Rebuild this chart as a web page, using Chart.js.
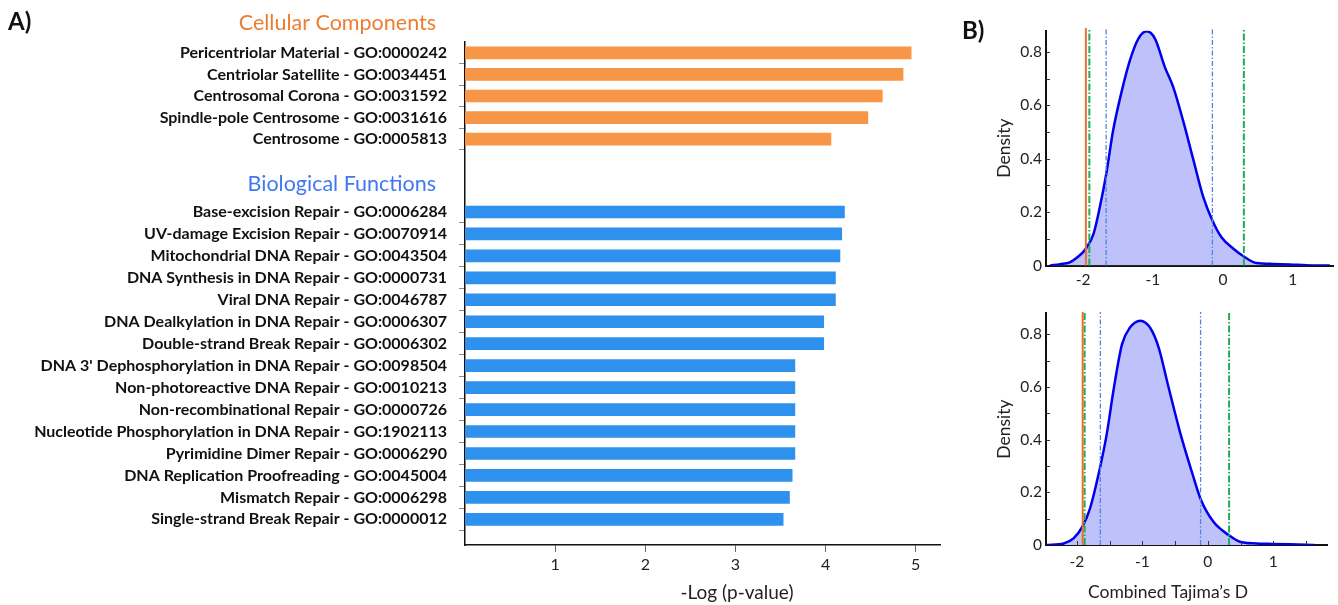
<!DOCTYPE html>
<html>
<head>
<meta charset="utf-8">
<script src="https://cdn.jsdelivr.net/npm/chart.js@4/dist/chart.umd.min.js"></script>
<style>
  html, body { margin: 0; padding: 0; background: #fff; }
  #wrap { position: relative; width: 1338px; height: 605px; overflow: hidden; background: #fff; }
  #wrap canvas { position: absolute; }
</style>
</head>
<body>
<div id="wrap">
  <canvas id="bfChart" width="960" height="455" style="left:0;top:150px"></canvas>
  <canvas id="ccChart" width="960" height="221" style="left:0;top:0"></canvas>
  <canvas id="kdeTop" width="378" height="300" style="left:960px;top:0"></canvas>
  <canvas id="kdeBottom" width="378" height="305" style="left:960px;top:300px"></canvas>
</div>
<script>
// ---- Panel A: GO enrichment, -log10(p) ----
const ccLabels = [
  'Pericentriolar Material - GO:0000242',
  'Centriolar Satellite - GO:0034451',
  'Centrosomal Corona - GO:0031592',
  'Spindle-pole Centrosome - GO:0031616',
  'Centrosome - GO:0005813'
];
const ccValues = [4.95, 4.86, 4.63, 4.47, 4.06];

const bfLabels = [
  'Base-excision Repair - GO:0006284',
  'UV-damage Excision Repair - GO:0070914',
  'Mitochondrial DNA Repair - GO:0043504',
  'DNA Synthesis in DNA Repair - GO:0000731',
  'Viral DNA Repair - GO:0046787',
  'DNA Dealkylation in DNA Repair - GO:0006307',
  'Double-strand Break Repair - GO:0006302',
  "DNA 3' Dephosphorylation in DNA Repair - GO:0098504",
  'Non-photoreactive DNA Repair - GO:0010213',
  'Non-recombinational Repair - GO:0000726',
  'Nucleotide Phosphorylation in DNA Repair - GO:1902113',
  'Pyrimidine Dimer Repair - GO:0006290',
  'DNA Replication Proofreading - GO:0045004',
  'Mismatch Repair - GO:0006298',
  'Single-strand Break Repair - GO:0000012'
];
const bfValues = [4.21, 4.18, 4.16, 4.11, 4.11, 3.98, 3.98, 3.66, 3.66, 3.66, 3.66, 3.66, 3.63, 3.60, 3.53];

const pTicks = [1, 2, 3, 4, 5];

// ---- Panel B: Combined Tajima's D density (top and bottom) ----
const topD = [-2.47, -2.33, -2.19, -2.09, -1.96, -1.85, -1.76, -1.67, -1.57, -1.45, -1.33, -1.21, -1.09, -0.97, -0.83, -0.71, -0.57, -0.42, -0.28, -0.15, -0.02, 0.15, 0.30, 0.48, 0.72, 0.96, 1.19, 1.53];
const topDensity = [0, 0.005, 0.012, 0.029, 0.063, 0.119, 0.219, 0.34, 0.506, 0.65, 0.769, 0.85, 0.878, 0.85, 0.744, 0.669, 0.544, 0.394, 0.256, 0.169, 0.106, 0.063, 0.034, 0.009, 0.006, 0.004, 0.001, 0];
const topOrangeCut = [-1.96];
const topGreenCuts = [-1.91, 0.30];
const topBlueCuts = [-1.67, -0.15];

const botD = [-2.46, -2.2, -2.05, -1.91, -1.80, -1.64, -1.54, -1.44, -1.31, -1.19, -1.03, -0.88, -0.75, -0.60, -0.42, -0.24, -0.11, 0.09, 0.32, 0.49, 0.74, 0.99, 1.5, 1.63];
const botDensity = [0, 0.006, 0.025, 0.072, 0.137, 0.30, 0.425, 0.587, 0.762, 0.825, 0.852, 0.825, 0.75, 0.60, 0.425, 0.275, 0.175, 0.087, 0.0375, 0.0125, 0.006, 0.004, 0.001, 0];
const botOrangeCut = [-1.91];
const botGreenCuts = [-1.88, 0.325];
const botBlueCuts = [-1.64, -0.11];

const densityTicks = [0, 0.2, 0.4, 0.6, 0.8];
const dTicks = [-2, -1, 0, 1];

// ---- shared look ----
Chart.defaults.font.family = 'Lato';
Chart.defaults.color = '#222';
Chart.defaults.animation = false;
Chart.defaults.plugins.legend.display = false;
Chart.defaults.plugins.tooltip.enabled = false;

const ORANGE_BAR = '#F79646';
const BLUE_BAR = '#2F91EE';
const AXIS_COLOR = '#111';
const P_MAX = 5.27;

// free-standing text (panel letters, section headers, axis titles)
const freeText = {
  id: 'freeText',
  afterDraw(chart, args, opts) {
    const ctx = chart.ctx;
    (opts.items || []).forEach(it => {
      ctx.save();
      ctx.font = (it.weight || 'normal') + ' ' + it.size + 'px Lato';
      ctx.fillStyle = it.color || '#222';
      ctx.textAlign = it.align || 'left';
      ctx.textBaseline = 'middle';
      ctx.fillText(it.text, it.x, it.y);
      ctx.restore();
    });
  }
};

// short tick marks pointing into the plot area
const innerTicks = {
  id: 'innerTicks',
  afterDraw(chart, args, opts) {
    const { ctx, scales: { x, y }, chartArea: a } = chart;
    ctx.save();
    ctx.strokeStyle = '#333';
    ctx.lineWidth = 1;
    ctx.beginPath();
    if (opts.yStep) {
      for (let v = opts.yStep; v <= y.max + 1e-9; v += opts.yStep) {
        const p = Math.round(y.getPixelForValue(v)) + 0.5;
        ctx.moveTo(a.left, p); ctx.lineTo(a.left + opts.len, p);
      }
    }
    if (opts.xStep) {
      for (let v = Math.ceil(x.min / opts.xStep) * opts.xStep; v <= x.max + 1e-9; v += opts.xStep) {
        const p = Math.round(x.getPixelForValue(v)) + 0.5;
        ctx.moveTo(p, a.bottom); ctx.lineTo(p, a.bottom - opts.len);
      }
    }
    ctx.stroke();
    ctx.restore();
  }
};

// category-like axis on a linear index scale so the slot height can be set freely
function termAxis(labels, maxIndex) {
  return {
    type: 'linear',
    offset: false,
    reverse: true,
    min: -0.5,
    max: maxIndex,
    afterBuildTicks: s => { s.ticks = labels.map((_, i) => ({ value: i })); },
    afterFit: s => { s.width = 465; },
    ticks: {
      autoSkip: false,
      padding: 12,
      color: '#111',
      font: { family: 'Lato', weight: 'bold', size: 16 },
      callback: (v, i) => labels[i]
    },
    grid: {
      offset: true,
      drawOnChartArea: false,
      drawTicks: true,
      tickLength: 6,
      lineWidth: 1,
      color: ctx => ctx.index === 0 ? 'rgba(0,0,0,0)' : '#8a8a8a'
    },
    border: { display: true, color: AXIS_COLOR, width: 1.5 }
  };
}

function barData(labels, values, color) {
  return {
    datasets: [{
      data: values.map((v, i) => ({ x: v, y: i })),
      backgroundColor: color,
      borderWidth: 0,
      barThickness: 12
    }]
  };
}

// Cellular components (upper bar block)
new Chart(document.getElementById('ccChart'), {
  type: 'bar',
  data: barData(ccLabels, ccValues, ORANGE_BAR),
  plugins: [freeText],
  options: {
    responsive: false,
    devicePixelRatio: 1,
    indexAxis: 'y',
    layout: { padding: { top: 42, right: 20, bottom: 20, left: 0 } },
    scales: {
      x: { type: 'linear', min: 0, max: P_MAX, display: false },
      y: termAxis(ccLabels, 6.79)
    },
    plugins: {
      freeText: {
        items: [
          { text: 'A)', x: 8, y: 22, size: 24, weight: 'bold', color: '#111' },
          { text: 'Cellular Components', x: 436, y: 23, size: 21.5, color: '#ED7D31', align: 'right' }
        ]
      }
    }
  }
});

// Biological functions (lower bar block with the shared p-value axis)
new Chart(document.getElementById('bfChart'), {
  type: 'bar',
  data: barData(bfLabels, bfValues, BLUE_BAR),
  plugins: [freeText],
  options: {
    responsive: false,
    devicePixelRatio: 1,
    indexAxis: 'y',
    layout: { padding: { top: 51, right: 20, bottom: 0, left: 0 } },
    scales: {
      x: {
        type: 'linear',
        min: 0,
        max: P_MAX,
        afterFit: s => { s.height = 60; },
        afterBuildTicks: s => { s.ticks = [0].concat(pTicks).map(v => ({ value: v })); },
        ticks: {
          padding: 3,
          color: '#222',
          font: { size: 16 },
          callback: v => v === 0 ? '' : String(v)
        },
        grid: {
          drawOnChartArea: false,
          tickLength: 7,
          color: ctx => (ctx.tick && ctx.tick.value === 0) ? 'rgba(0,0,0,0)' : '#666'
        },
        border: { display: true, color: AXIS_COLOR, width: 1.5 }
      },
      y: termAxis(bfLabels, 15.17)
    },
    plugins: {
      freeText: {
        items: [
          { text: 'Biological Functions', x: 436, y: 34, size: 21.5, color: '#3F78F2', align: 'right' },
          { text: '-Log (p-value)', x: 737, y: 443, size: 19, color: '#222', align: 'center' }
        ]
      }
    }
  }
});

// density chart builder
function densityChart(id, cfg) {
  const cutLine = (v, color, dash, width) => ({
    type: 'line',
    data: [{ x: v, y: 0 }, { x: v, y: cfg.lineTop }],
    borderColor: color,
    borderWidth: width,
    borderDash: dash,
    pointRadius: 0,
    fill: false,
    clip: false
  });
  const datasets = [];
  cfg.orange.forEach(v => datasets.push(cutLine(v, '#E8702A', [], 2)));
  cfg.green.forEach(v => datasets.push(cutLine(v, '#1FAE55', [7, 2, 1.5, 2], 2)));
  cfg.blue.forEach(v => datasets.push(cutLine(v, '#4F86D9', [5, 2, 1.5, 2], 1.3)));
  datasets.push({
    type: 'line',
    data: cfg.xs.map((x, i) => ({ x, y: cfg.ys[i] })),
    borderColor: '#0000EE',
    borderWidth: 2.5,
    backgroundColor: '#BFC2FA',
    fill: 'origin',
    pointRadius: 0,
    cubicInterpolationMode: 'monotone'
  });

  return new Chart(document.getElementById(id), {
    type: 'line',
    data: { datasets },
    plugins: [innerTicks, freeText],
    options: {
      responsive: false,
      devicePixelRatio: 1,
      layout: { padding: cfg.padding },
      scales: {
        x: {
          type: 'linear',
          min: cfg.xMin,
          max: cfg.xMax,
          afterFit: s => { s.height = cfg.xHeight; },
          afterBuildTicks: s => { s.ticks = dTicks.map(v => ({ value: v })); },
          ticks: { padding: cfg.xPad, color: '#222', font: { size: 15.5 }, callback: v => String(v) },
          grid: { drawOnChartArea: false, drawTicks: false },
          border: { display: true, color: AXIS_COLOR, width: 2 }
        },
        y: {
          type: 'linear',
          min: 0,
          max: 0.88,
          afterFit: s => { s.width = 86; },
          afterBuildTicks: s => { s.ticks = densityTicks.map(v => ({ value: v })); },
          ticks: { padding: 4, color: '#222', font: { size: 15.5 }, callback: v => v === 0 ? '0' : v.toFixed(1) },
          grid: { drawOnChartArea: false, drawTicks: false },
          border: { display: true, color: AXIS_COLOR, width: 2 },
          title: { display: true, text: 'Density', color: '#222', font: { size: 17.5 }, padding: { top: 34, bottom: 0 } }
        }
      },
      plugins: {
        innerTicks: { yStep: 0.1, xStep: cfg.xStep, len: 4 },
        freeText: { items: cfg.text }
      }
    }
  });
}

densityChart('kdeTop', {
  xs: topD, ys: topDensity,
  orange: topOrangeCut, green: topGreenCuts, blue: topBlueCuts,
  lineTop: 0.89,
  xMin: -2.53, xMax: 1.575,
  padding: { top: 30.8, right: 5, bottom: 0, left: 0 },
  xHeight: 34.5,
  xPad: 5,
  xStep: null,
  text: [{ text: 'B)', x: 2, y: 31, size: 24, weight: 'bold', color: '#111' }]
});

densityChart('kdeBottom', {
  xs: botD, ys: botDensity,
  orange: botOrangeCut, green: botGreenCuts, blue: botBlueCuts,
  lineTop: 0.885,
  xMin: -2.47, xMax: 1.82,
  padding: { top: 10.3, right: 11, bottom: 0, left: 0 },
  xHeight: 60,
  xPad: 8,
  xStep: 0.5,
  text: [{ text: 'Combined Tajima\u2019s D', x: 208, y: 292, size: 17.5, color: '#222', align: 'center' }]
});
</script>
</body>
</html>
